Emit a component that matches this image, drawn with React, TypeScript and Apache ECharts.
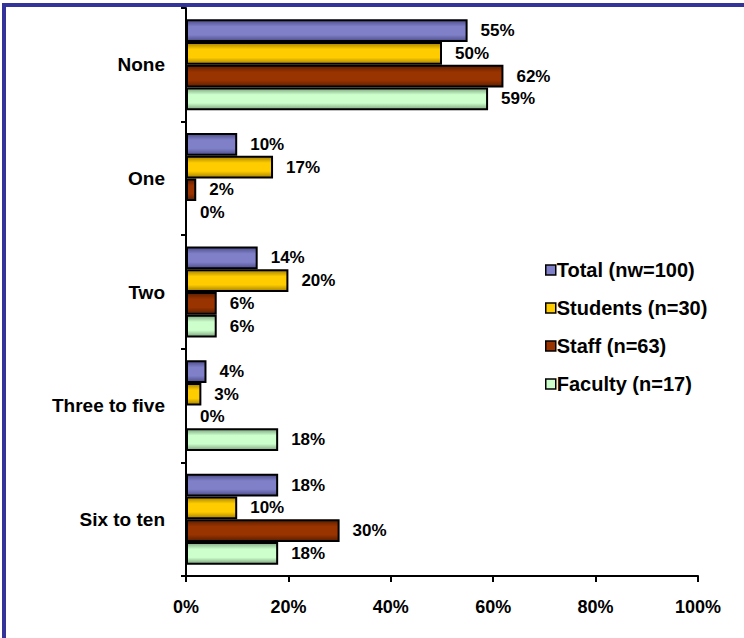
import React, { useEffect, useRef } from "react";
import * as echarts from "echarts";

const categories = ["None", "One", "Two", "Three to five", "Six to ten"];
const seriesNames = ["Total (nw=100)", "Students (n=30)", "Staff (n=63)", "Faculty (n=17)"];
const totalValues = [55, 10, 14, 4, 18];
const studentValues = [50, 17, 20, 3, 10];
const staffValues = [62, 2, 6, 0, 30];
const facultyValues = [59, 0, 6, 18, 18];
const xTicks = [0, 20, 40, 60, 80, 100];

const colors = [
  { base: "#8080C8", edge: "#4D4D8C" },
  { base: "#FFCC00", edge: "#A68200" },
  { base: "#993300", edge: "#5C1F00" },
  { base: "#CCFFCC", edge: "#7FA67F" },
];

const FONT = "'Liberation Sans', Arial, sans-serif";

export default function App() {
  const ref = useRef<HTMLDivElement>(null);
  useEffect(() => {
    if (!ref.current) return;
    const chart = echarts.init(ref.current, null, { renderer: "svg" });
    const allValues = [totalValues, studentValues, staffValues, facultyValues];
    const grad = (c: { base: string; edge: string }) =>
      new echarts.graphic.LinearGradient(0, 0, 0, 1, [
        { offset: 0, color: c.edge },
        { offset: 0.3, color: c.base },
        { offset: 0.7, color: c.base },
        { offset: 1, color: c.edge },
      ]);
    chart.setOption({
      animation: false,
      backgroundColor: "#ffffff",
      graphic: [
        { type: "rect", shape: { x: 2, y: 3, width: 742, height: 4 }, style: { fill: "#333399" } },
        { type: "rect", shape: { x: 2, y: 3, width: 4, height: 635 }, style: { fill: "#333399" } },
      ],
      grid: { left: 186, right: 46, top: 8, bottom: 62, containLabel: false },
      legend: {
        orient: "vertical",
        left: 540,
        top: 255,
        itemWidth: 10,
        itemHeight: 10,
        itemGap: 18,
        icon: "rect",
        data: seriesNames.map((n, i) => ({
          name: n,
          itemStyle: { color: colors[i].base, borderColor: "#000", borderWidth: 1.5 },
        })),
        textStyle: { fontFamily: FONT, fontWeight: "bold", fontSize: 20, color: "#000", padding: [0, 0, 0, -4] },
      },
      xAxis: {
        type: "value",
        min: 0,
        max: 100,
        interval: 20,
        axisLine: { show: true, lineStyle: { color: "#000", width: 2 } },
        axisTick: { show: true, length: 6, lineStyle: { color: "#000", width: 2 } },
        splitLine: { show: false },
        axisLabel: {
          formatter: (v: number) => (xTicks.includes(v) ? v + "%" : ""),
          margin: 22,
          fontFamily: FONT,
          fontWeight: "bold",
          fontSize: 18,
          color: "#000",
        },
      },
      yAxis: {
        type: "category",
        data: categories,
        inverse: true,
        axisLine: { show: true, lineStyle: { color: "#000", width: 2 } },
        axisTick: { show: true, length: 5, lineStyle: { color: "#000", width: 2 } },
        axisLabel: {
          margin: 21,
          fontFamily: FONT,
          fontWeight: "bold",
          fontSize: 19,
          color: "#000",
        },
      },
      series: seriesNames.map((name, i) => ({
        name,
        type: "bar",
        data: allValues[i],
        barCategoryGap: "20%",
        barGap: "0%",
        itemStyle: { color: grad(colors[i]), borderColor: "#000", borderWidth: 2 },
        label: {
          show: true,
          position: "right",
          distance: 13,
          formatter: "{c}%",
          fontFamily: FONT,
          fontWeight: "bold",
          fontSize: 17,
          color: "#000",
        },
      })),
    });
    return () => chart.dispose();
  }, []);
  return <div ref={ref} style={{ width: 744, height: 638, position: "absolute", left: 0, top: 0 }} />;
}
